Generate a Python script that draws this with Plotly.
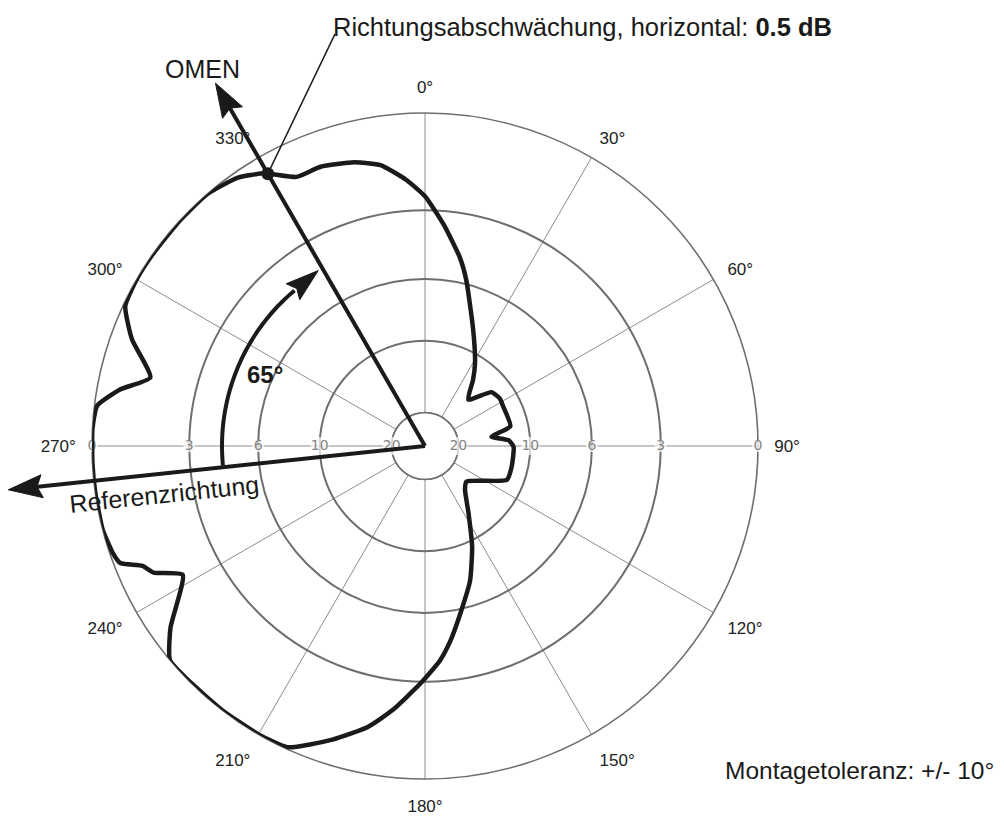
import numpy as np
import plotly.graph_objects as go

# ---------------- data ----------------
# directional pattern: angle (deg, clockwise from top) and attenuation (dB)
ANGLES_DEG = [0, 5, 10.5, 14, 22.5, 31, 36, 43, 51, 57.5, 63.5, 77, 82, 86,
              90.5, 103.5, 112.5, 130.5, 137.5, 147, 155, 161.5, 168, 172.5,
              176, 181, 187, 191.5, 197.5, 204.5, 210, 217.5, 225, 230, 234.5,
              242, 245, 247, 249, 251, 255.5, 262, 267, 273, 277, 280.5, 284,
              290, 295, 300, 305, 312.5, 319, 325, 329.5, 334.5, 339.5, 346,
              351, 356]
ATTEN_DB = [2.5, 3.55, 4.8, 5.8, 8.45, 10.7, 12.2, 14.4, 11.8, 11.5, 11.6, 11.6,
            13.9, 12.0, 11.5, 11.45, 11.5, 15.7, 15.0, 12.4, 9.5, 7.4, 5.8, 4.6,
            3.8, 2.95, 1.95, 1.3, 0.68, 0.05, 0, 0, 0, 0, 0.55, 1.68, 0.92,
            0.71, 0.17, 0.08, 0, 0, 0, 0, 0.07, 0.62, 1.41, 0.57, 0.06, 0, 0,
            0, 0, 0.15, 0.44, 0.96, 0.96, 1.13, 1.37, 1.93]

SPOKES_DEG = list(range(0, 360, 30))
SPOKE_LABELS = [f"{a}°" for a in SPOKES_DEG]
RING_DB = [20, 10, 6, 3, 0]
RING_LABELS = ["20", "10", "6", "3", "0"]
RING_LABEL_ANGLES = [90, 270]

OMEN_ANGLE = 330          # OMEN direction
REF_ANGLE = 264           # Referenzrichtung
TURN_LABEL = "65°"
HORIZ_ATTEN_DB = 0.5
MOUNT_TOL_DEG = 10


def db_to_r(db):
    return 10 ** (-np.asarray(db, dtype=float) / 20.0)


# ---------------- geometry helpers ----------------
W, H = 1004, 826
CX, CY, RPX = 425, 446, 333


def px(v):  # pixel length -> radial units
    return v / RPX


def to_xy(theta, r):
    t = np.radians(theta)
    return np.array([r * np.sin(t), r * np.cos(t)])


def to_polar(p):
    return (np.degrees(np.arctan2(p[0], p[1])) % 360, float(np.hypot(p[0], p[1])))


def unit_to_paper(p):
    return (CX + p[0] * RPX) / W, 1 - (CY - p[1] * RPX) / H


def heading_vec(h):
    h = np.radians(h)
    return np.array([np.sin(h), np.cos(h)])


def arrow_pts(tip, heading, length, width, notch=0.15):
    u = heading_vec(heading)
    n = np.array([u[1], -u[0]])
    base = tip - length * u
    return [tip, base + width / 2 * n, tip - (1 - notch) * length * u,
            base - width / 2 * n]


def paper(xp, yp):
    return xp / W, 1 - yp / H


BLACK = "#1a1a1a"
FONT = "Liberation Sans, Arial, sans-serif"

fig = go.Figure()

# white inner disc (20 dB ring) hiding spokes in the centre
disc_t = np.linspace(0, 360, 181)
fig.add_trace(go.Scatterpolar(
    theta=disc_t, r=np.full_like(disc_t, db_to_r(RING_DB[0])), mode="lines",
    fill="toself", fillcolor="white", line=dict(color="#6e6e6e", width=1.6),
    hoverinfo="skip"))

# ring labels on both sides of the horizontal axis
lab_theta, lab_r, lab_text, lab_size = [], [], [], []
for a in RING_LABEL_ANGLES:
    for db, t in zip(RING_DB, RING_LABELS):
        lab_theta.append(a)
        lab_r.append(float(db_to_r(db)))
        lab_text.append(t)
        lab_size.append(12 + 6 * (len(t) - 1))
fig.add_trace(go.Scatterpolar(
    theta=lab_theta, r=lab_r, mode="markers+text", text=lab_text,
    textposition="middle center",
    textfont=dict(family="DejaVu Sans", size=14, color="#858585"),
    marker=dict(symbol="square", color="white", size=lab_size, line=dict(width=0)),
    cliponaxis=False, hoverinfo="skip"))

# directional pattern
fig.add_trace(go.Scatterpolar(
    theta=ANGLES_DEG + [ANGLES_DEG[0]], r=db_to_r(ATTEN_DB + [ATTEN_DB[0]]),
    mode="lines", line=dict(color=BLACK, width=4.5, shape="spline", smoothing=0.5),
    cliponaxis=False))

# turning arc with arrowhead (inside the plot)
ARC_R = px(203)
arc_end = OMEN_ANGLE - 10
arc_t = np.linspace(REF_ANGLE + 0.5, arc_end, 60)
fig.add_trace(go.Scatterpolar(
    theta=arc_t, r=np.full_like(arc_t, ARC_R), mode="lines",
    line=dict(color=BLACK, width=4), cliponaxis=False))
hd = arc_end + 90
tip = to_xy(arc_end, ARC_R) + px(31) * heading_vec(hd)
pts = arrow_pts(tip, hd, px(33), px(21)) + [tip]
th, rr = zip(*[to_polar(p) for p in pts])
fig.add_trace(go.Scatterpolar(
    theta=list(th), r=list(rr), mode="lines", fill="toself", fillcolor=BLACK,
    line=dict(color=BLACK, width=1), cliponaxis=False))

# measured point on the pattern
dot_r = float(db_to_r(HORIZ_ATTEN_DB))
fig.add_trace(go.Scatterpolar(
    theta=[OMEN_ANGLE], r=[dot_r], mode="markers",
    marker=dict(color=BLACK, size=13), cliponaxis=False))

# ---- arrows reaching outside the diagram: layout shapes (paper coords) ----
shapes = []
ARROW_R = px(419)
AL, AW = px(34), px(23)
for ang in (OMEN_ANGLE, REF_ANGLE):
    tipp = to_xy(ang, ARROW_R)
    x0, y0 = unit_to_paper(np.zeros(2))
    x1, y1 = unit_to_paper(tipp - 0.8 * AL * heading_vec(ang))
    shapes.append(dict(type="line", xref="paper", yref="paper", x0=x0, y0=y0,
                       x1=x1, y1=y1, line=dict(color=BLACK, width=4),
                       layer="above"))
    pp = [unit_to_paper(p) for p in arrow_pts(tipp, ang, AL, AW)]
    path = "M" + " L".join(f"{a:.5f},{b:.5f}" for a, b in pp) + " Z"
    shapes.append(dict(type="path", xref="paper", yref="paper", path=path,
                       fillcolor=BLACK, line=dict(color=BLACK, width=1),
                       layer="above"))

# pointer line from the measured point to the caption
x0, y0 = unit_to_paper(to_xy(OMEN_ANGLE, dot_r))
x1, y1 = paper(335, 34)
shapes.append(dict(type="line", xref="paper", yref="paper", x0=x0, y0=y0,
                   x1=x1, y1=y1, line=dict(color=BLACK, width=1.6),
                   layer="above"))

fig.update_layout(
    width=W, height=H, margin=dict(l=0, r=0, t=0, b=0),
    paper_bgcolor="white", showlegend=False, shapes=shapes,
    polar=dict(
        domain=dict(x=[(CX - RPX) / W, (CX + RPX) / W],
                    y=[1 - (CY + RPX) / H, 1 - (CY - RPX) / H]),
        bgcolor="white",
        radialaxis=dict(range=[0, 1], tickmode="array",
                        tickvals=list(db_to_r(RING_DB)), showticklabels=False,
                        ticks="", showline=False, gridcolor="#6e6e6e",
                        gridwidth=1.6, layer="below traces"),
        angularaxis=dict(rotation=90, direction="clockwise", tickmode="array",
                         tickvals=SPOKES_DEG, ticktext=SPOKE_LABELS,
                         showline=True, linecolor="#6e6e6e", linewidth=1.6,
                         gridcolor="#8c8c8c", gridwidth=1, ticks="outside",
                         ticklen=12, tickcolor="rgba(0,0,0,0)",
                         tickfont=dict(family=FONT, size=17, color="#222222"),
                         layer="below traces"),
    ),
)

ann = [
    (331, 27, f"Richtungsabschwächung, horizontal: <b>{HORIZ_ATTEN_DB} dB</b>", 25.5, "left", 0),
    (202, 69, "OMEN", 25, "center", 0),
    (164, 494, "Referenzrichtung", 25, "center", -6),
    (265, 374, f"<b>{TURN_LABEL}</b>", 24, "center", 0),
    (723, 770, f"Montagetoleranz: +/- {MOUNT_TOL_DEG}°", 24.5, "left", 0),
]
for xp, yp, txt, size, xa, ang in ann:
    x, y = paper(xp, yp)
    fig.add_annotation(x=x, y=y, xref="paper", yref="paper", text=txt,
                       showarrow=False, xanchor=xa, yanchor="middle",
                       textangle=ang,
                       font=dict(family=FONT, size=size, color=BLACK))

fig.write_html("out.html", config={"displayModeBar": False},
               post_script="document.body.style.margin='0px';")
